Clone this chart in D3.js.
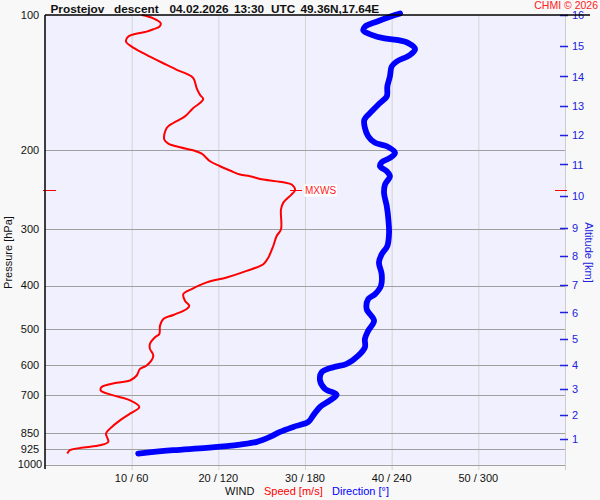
<!DOCTYPE html>
<html><head><meta charset="utf-8">
<script src="https://cdn.jsdelivr.net/npm/d3@7"></script>
<style>
html,body{margin:0;padding:0;background:#f8f8f8;}
svg{display:block;font-family:"Liberation Sans",Arial,sans-serif;}
</style></head>
<body><svg id="c" width="600" height="500"></svg>
<script>
// ---- data ----
const pressureTicks = [100, 200, 300, 400, 500, 600, 700, 850, 925, 1000];
const speedTicks = [10, 20, 30, 40, 50];
const directionTicks = [60, 120, 180, 240, 300];
const altitudeKm = [1,2,3,4,5,6,7,8,9,10,11,12,13,14,15,16];
const altitudePressure = [877,776,679,601,526,459,399,344,297,253,215,185,159,137,117,100];
const titleWords = ["Prostejov", "descent", "04.02.2026", "13:30", "UTC", "49.36N,17.64E"];

const speedPressure = [100,101.7,104.3,106.2,107.6,108.9,109.8,111.7,114.6,117.6,121.6,125.4,129.1,132.4,135.2,138.1,145.4,150.5,153.8,157,161,168.1,173.9,178.4,189.3,193.2,196.9,200,203.4,211.5,217,221.8,226.4,228.4,232.3,235.5,238.3,245.3,250.6,261.5,270.6,299.8,310.2,326.5,346.4,358.4,370.9,383.6,393.5,407.2,417.7,432.2,443.4,450.9,464.9,474.5,491,512.3,521,539.1,553.1,572.4,602.4,612.6,633.9,650.3,657.9,672.5,684.3,702,720.1,744.8,770.7,797.5,832,853.5,890.5,906.1,916.8,929.5,945.4];
const speedValues = [11.16,12.5,13.35,13.19,12.5,11.73,10.77,9.61,9.35,10.0,11.34,12.69,14.04,15.2,16.35,17.11,17.5,17.88,18.26,17.88,17.11,16.15,14.8,14.04,13.76,14.23,15.58,17.11,18.08,19.04,20.19,21.35,22.5,23.65,25.19,27.5,28.46,28.85,28.46,27.5,27.23,27.23,26.73,26.34,25.77,25.19,23.27,20.96,18.66,16.93,15.96,16.15,16.65,16.35,14.8,13.65,13.27,13.19,12.69,12.11,12.11,12.5,11.73,10.96,10.58,9.81,8.27,6.54,6.43,7.88,9.81,10.88,9.81,8.65,7.5,7.04,7.3,6.35,4.42,2.88,2.57];

const dirPressure = [99.2,100.9,103.5,106.2,108.3,110.7,112.6,113.6,115.5,119.1,122.7,126.9,130.2,137,144.2,151.8,157,163.8,171,178.4,186.2,192.5,195.9,202.7,207.9,212.6,217,222.6,228.4,238.3,248.6,266.1,284.8,304.8,326.5,340.6,355.3,377.2,400.5,417.8,428.6,451,478.6,503.7,525.5,548.3,572.4,597.1,607.3,623,650.3,678.5,699.6,720.1,744.8,777.5,804.1,824.8,846.1,868,890.5,902.9,918.2,929.5,945.4];
const dirValues = [245.8,238.8,229.6,221.5,220.4,226.2,234.2,243.5,251.5,256.2,252.7,243.5,240,238.8,237,236.6,231.9,226.2,221.1,221.5,223.8,228.5,236.6,242.3,238.8,233.1,231.9,236.6,238.8,235.4,234.7,236.6,237.7,238.2,237,233.1,231.2,233.1,232.6,228.5,223.8,222.7,227.8,223.8,221.5,221.5,216.9,208.9,199.6,191.6,190.4,193.8,201.9,197.3,190.4,185.7,182.3,171.9,162.7,155.8,146.6,135,111.9,88.8,64.5];

const mxwsPressure = 245.3;
const mxwsSpeed = 28.85;

// ---- drawing ----
const svg = d3.select("#c");
const L = 45, R = 565, T = 15, B = 464.5;
const y = d3.scaleLog().domain([100, 1000]).range([T, B]);
const xs = d3.scaleLinear().domain([0, 60]).range([L, R]);
const xd = d3.scaleLinear().domain([0, 360]).range([L, R]);

svg.append("rect").attr("x",0).attr("y",0).attr("width",600).attr("height",500).attr("fill","#f8f8f8");
svg.append("rect").attr("x",L).attr("y",T).attr("width",R-L).attr("height",B-T).attr("fill","#f0f0ff");

// vertical grid
svg.append("g").selectAll("line").data(speedTicks.concat([60])).join("line")
  .attr("x1",d=>xs(d)+0.5).attr("x2",d=>xs(d)+0.5).attr("y1",T).attr("y2",470)
  .attr("stroke","#d4d4d4").attr("stroke-width",1);
// right border
svg.append("line").attr("x1",R+0.5).attr("x2",R+0.5).attr("y1",T).attr("y2",470).attr("stroke","#cccccc");

// horizontal grid
svg.append("g").selectAll("line").data(pressureTicks.slice(1)).join("line")
  .attr("x1",L).attr("x2",R).attr("y1",d=>Math.round(y(d))+0.5).attr("y2",d=>Math.round(y(d))+0.5)
  .attr("stroke","#a0a0a0").attr("stroke-width",1);

// pressure labels
svg.append("g").selectAll("text").data(pressureTicks).join("text")
  .attr("x",30).attr("y",d=>y(d)).attr("dy","0.35em").attr("text-anchor","middle")
  .attr("font-size",11).attr("fill","#111").text(d=>d);

// x labels
svg.append("g").selectAll("text").data(speedTicks).join("text")
  .attr("x",(d)=>xs(d)).attr("y",482).attr("text-anchor","middle")
  .attr("font-size",11).attr("fill","#111").text((d,i)=>d+" / "+directionTicks[i]);

// axis titles
const bt = svg.append("text").attr("y",495).attr("font-size",11);
bt.append("tspan").attr("x",225).attr("fill","#111").text("WIND");
bt.append("tspan").attr("x",264).attr("fill","#ff0000").text("Speed [m/s]");
bt.append("tspan").attr("x",332).attr("fill","#0000ff").text("Direction [°]");

svg.append("text").attr("transform","translate(12,252.5) rotate(-90)").attr("text-anchor","middle")
  .attr("font-size",11).attr("fill","#111").text("Pressure [hPa]");
svg.append("text").attr("transform","translate(585,252.5) rotate(90)").attr("text-anchor","middle")
  .attr("font-size",11).attr("fill","#2020e0").text("Altitude [km]");

// altitude ticks
const ag = svg.append("g");
ag.selectAll("line").data(altitudeKm).join("line")
  .attr("x1",560).attr("x2",568).attr("y1",(d,i)=>Math.round(y(altitudePressure[i]))+0.5).attr("y2",(d,i)=>Math.round(y(altitudePressure[i]))+0.5)
  .attr("stroke","#2020e0").attr("stroke-width",1.5);
ag.selectAll("text").data(altitudeKm).join("text")
  .attr("x",572).attr("y",(d,i)=>y(altitudePressure[i])).attr("dy","0.38em")
  .attr("font-size",11).attr("fill","#2020e0").text(d=>d);

// MXWS markers
const my = Math.round(y(mxwsPressure))+0.5;
svg.append("line").attr("x1",43).attr("x2",56).attr("y1",my).attr("y2",my).attr("stroke","#ff0000");
svg.append("line").attr("x1",555).attr("x2",567).attr("y1",my).attr("y2",my).attr("stroke","#ff0000");
svg.append("line").attr("x1",xs(mxwsSpeed)-5).attr("x2",xs(mxwsSpeed)+7).attr("y1",my).attr("y2",my).attr("stroke","#ff0000");
svg.append("rect").attr("x",xs(mxwsSpeed)+9).attr("y",my-6).attr("width",33).attr("height",12).attr("fill","#ffffff");
svg.append("text").attr("x",xs(mxwsSpeed)+10).attr("y",my).attr("dy","0.36em").attr("font-size",10)
  .attr("fill","#ff2020").text("MXWS");

// curves
const dirLine = d3.line().x(d=>xd(d[1])).y(d=>y(d[0])).curve(d3.curveCatmullRom);
svg.append("path").datum(dirPressure.map((p,i)=>[p,dirValues[i]])).attr("d",dirLine)
  .attr("fill","none").attr("stroke","#0000ff").attr("stroke-width",5.8)
  .attr("stroke-linejoin","round").attr("stroke-linecap","round");
const spdLine = d3.line().x(d=>xs(d[1])).y(d=>y(d[0])).curve(d3.curveCatmullRom);
svg.append("path").datum(speedPressure.map((p,i)=>[p,speedValues[i]])).attr("d",spdLine)
  .attr("fill","none").attr("stroke","#ff0000").attr("stroke-width",2)
  .attr("stroke-linejoin","round");

// axes lines
svg.append("line").attr("x1",L).attr("x2",L).attr("y1",T).attr("y2",469).attr("stroke","#000").attr("stroke-width",1.5);
svg.append("line").attr("x1",L).attr("x2",590).attr("y1",T).attr("y2",T).attr("stroke","#000").attr("stroke-width",1.5);

// title
const titleX = [50.5, 114, 169.5, 234, 271, 300.5];
const tt = svg.append("text").attr("y",13).attr("font-size",11.8).attr("font-weight","bold").attr("fill","#111");
titleWords.forEach((w,i)=>tt.append("tspan").attr("x",titleX[i]).text(w));
svg.append("text").attr("x",598).attr("y",8.5).attr("text-anchor","end").attr("font-size",10.5)
  .attr("fill","#ff2020").text("CHMI © 2026");
</script></body></html>
